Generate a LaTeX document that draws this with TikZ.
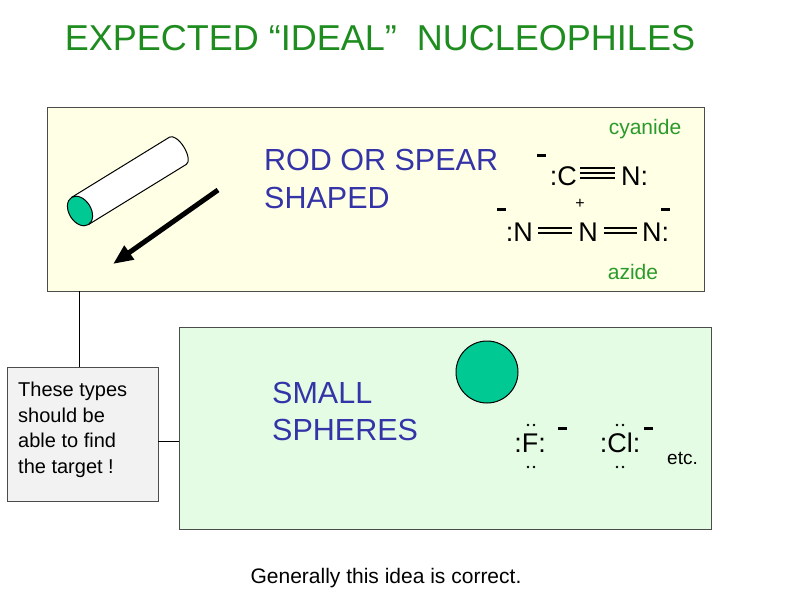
\documentclass[tikz,border=0pt]{standalone}
\usepackage{fontspec}
\setmainfont{Liberation Sans}
\usetikzlibrary{arrows.meta}
\definecolor{ttl}{HTML}{1E8C1E}
\definecolor{lbl}{HTML}{2A9A2A}
\definecolor{blu}{HTML}{3434A8}
\definecolor{yel}{HTML}{FFFFE6}
\definecolor{grn}{HTML}{E4FCE4}
\definecolor{gry}{HTML}{F2F2F2}
\definecolor{teal}{HTML}{00C993}
\tikzset{x=1pt,y=-1pt,
 panel/.style={draw=black!70,line width=1pt},
 big/.style={font=\fontsize{30.5}{34}\selectfont,inner sep=0pt},
 chem/.style={font=\fontsize{27}{30}\selectfont,inner sep=0pt},
 small/.style={font=\fontsize{21}{24}\selectfont,inner sep=0pt},
 bond/.style={line width=1.3pt},
 minus/.style={line width=3pt}}
\begin{document}
\begin{tikzpicture}
\useasboundingbox (0,0) rectangle (792,612);
\node[font=\fontsize{36}{40}\selectfont,text=ttl,inner sep=0pt] (title) at (380,38) {EXPECTED “IDEAL”\ \ NUCLEOPHILES};
\draw[panel,fill=yel] (47,108) rectangle (704,291);
\draw[panel,fill=grn] (179,327) rectangle (711,529);
\draw[panel,fill=gry] (7,367) rectangle (158,501);
\coordinate (a1) at (79,291); \coordinate (a2) at (79,367);
\coordinate (b1) at (158,441); \coordinate (b2) at (179,441);
\draw[line width=1pt] (a1)--(a2) (b1)--(b2);
% cylinder
\begin{scope}[shift={(80,211)},rotate=31.6]
\draw[line width=1pt,fill=white] (0pt,16pt)--(115pt,16pt) arc[start angle=90,end angle=-90,x radius=7pt,y radius=16pt] -- (0pt,-16pt);
\draw[line width=1pt,fill=teal] (0pt,0pt) ellipse[x radius=11pt,y radius=16pt];
\end{scope}
\coordinate (ar1) at (218,190); \coordinate (ar2) at (113,264);
\draw[line width=5pt,-{Triangle[length=20pt,width=16pt]}] (ar1)--(ar2);
\node[big,text=blu,anchor=west] (rod) at (264,160) {ROD OR SPEAR};
\node[big,text=blu,anchor=west] (shaped) at (264,198) {SHAPED};
\node[small,text=lbl] (cy) at (645,129) {cyanide};
\node[small,text=lbl] (az) at (633,272) {azide};
% cyanide
\node[chem,anchor=east] (C) at (577,176) {:C};
\node[chem,anchor=west] (N1) at (621,176) {N:};
\draw[bond] (580,168)--(615,168) (580,173)--(615,173) (580,178)--(615,178);
\draw[minus] (537,156)--(546,156);
% azide
\node[chem,anchor=east] (Na) at (533,232) {:N};
\node[chem] (Nb) at (588,232) {N};
\node[chem,anchor=west] (Nc) at (642,232) {N:};
\draw[bond] (538,228)--(572,228) (538,233)--(572,233) (604,228)--(637,228) (604,233)--(637,233);
\node[font=\fontsize{16}{18}\selectfont,inner sep=0pt] (plus) at (580,204) {+};
\draw[minus] (497,210)--(506,210) (661,210)--(670,210);
% spheres
\draw[line width=1pt,fill=teal] (487,372) circle[radius=31];
\node[big,text=blu,anchor=west] (sm) at (272,393) {SMALL};
\node[big,text=blu,anchor=west] (sp) at (272,430) {SPHERES};
\node[chem] (F) at (530,443) {:F:};
\node[chem] (Cl) at (620,443) {:Cl:};
\foreach \cx/\nm in {531/f,620/c}{
  \fill (\cx-3,425) circle[radius=1.3] (\cx+3,425) circle[radius=1.3]
        (\cx-3,467) circle[radius=1.3] (\cx+3,467) circle[radius=1.3];}
\draw[minus] (558,428)--(567,428) (644,428)--(653,428);
\node[small,anchor=west,font=\fontsize{19}{22}\selectfont] (etc) at (667,458) {etc.};
\node[small,anchor=north west,align=left,font=\fontsize{20}{25.5}\selectfont] (note) at (18,382) {These types\\should be\\able to find\\the target !};
\node[small] (gen) at (386,578) {Generally this idea is correct.};
\end{tikzpicture}
\end{document}
